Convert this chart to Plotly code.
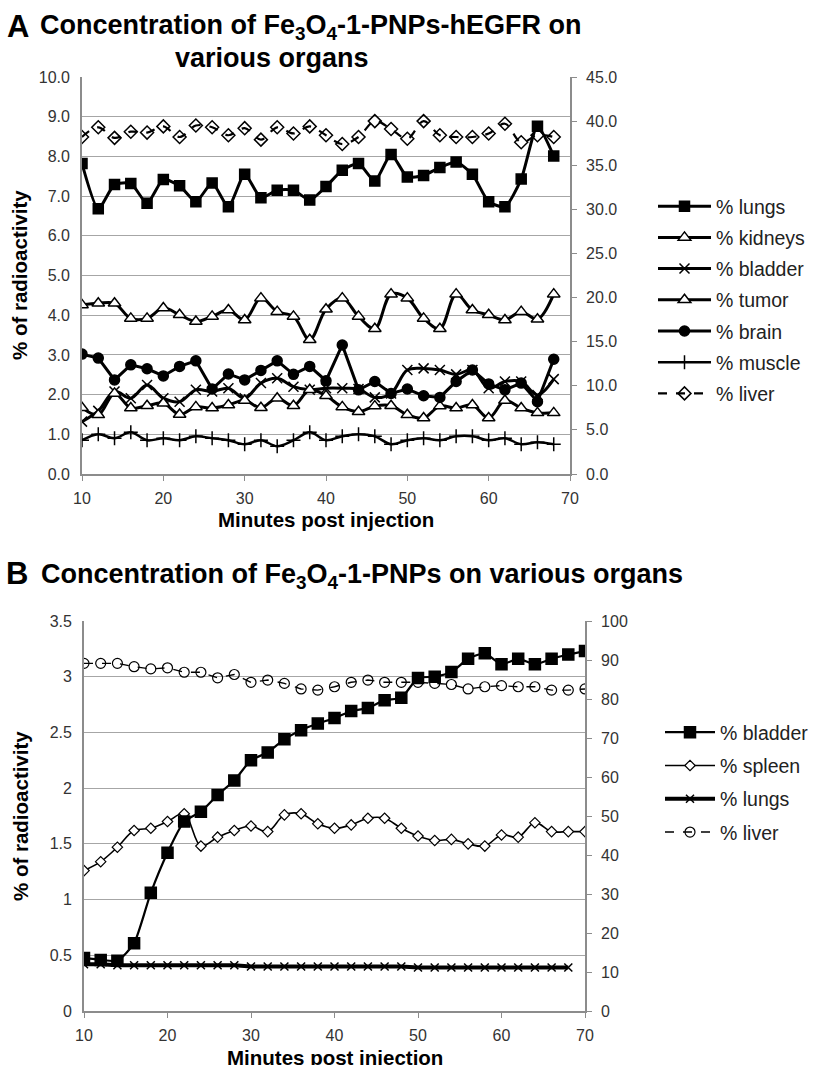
import plotly.graph_objects as go

W, H = 819, 1065
def px(x): return x / W
def py(y): return 1 - y / H

FONT = "Liberation Sans, Arial, sans-serif"

# ---------------- Panel A data ----------------
minutes_a = [10, 12, 14, 16, 18, 20, 22, 24, 26, 28, 30, 32, 34, 36, 38,
             40, 42, 44, 46, 48, 50, 52, 54, 56, 58, 60, 62, 64, 66, 68]
a_lungs = [7.82, 6.68, 7.29, 7.32, 6.82, 7.42, 7.26, 6.86, 7.33, 6.73, 7.55, 6.96, 7.15, 7.15, 6.90,
           7.24, 7.65, 7.82, 7.38, 8.05, 7.48, 7.52, 7.72, 7.86, 7.55, 6.86, 6.73, 7.43, 8.76, 8.01]
a_kidneys = [4.26, 4.30, 4.30, 3.92, 3.92, 4.18, 4.01, 3.84, 3.97, 4.13, 3.88, 4.43, 4.09, 3.97, 3.38,
             4.15, 4.43, 3.97, 3.66, 4.53, 4.43, 3.92, 3.66, 4.53, 4.13, 4.01, 3.88, 4.09, 3.90, 4.53]
a_bladder = [1.32, 1.59, 2.08, 1.91, 2.24, 1.91, 1.82, 2.12, 2.08, 2.16, 1.91, 2.29, 2.41, 2.20, 2.12,
             2.16, 2.16, 2.14, 1.93, 2.03, 2.62, 2.66, 2.62, 2.51, 2.62, 2.16, 2.33, 2.33, 1.99, 2.39]
a_tumor = [1.67, 1.49, 2.03, 1.66, 1.72, 1.78, 1.50, 1.69, 1.66, 1.74, 1.85, 1.67, 1.91, 1.72, 2.12,
           1.97, 1.69, 1.57, 1.71, 1.72, 1.49, 1.41, 1.71, 1.66, 1.74, 1.41, 1.85, 1.66, 1.54, 1.54]
a_brain = [3.02, 2.92, 2.37, 2.75, 2.65, 2.47, 2.71, 2.85, 2.14, 2.52, 2.37, 2.61, 2.85, 2.51, 2.71,
           2.35, 3.25, 2.12, 2.33, 2.03, 2.14, 1.97, 1.93, 2.33, 2.62, 2.27, 2.12, 2.29, 1.82, 2.89]
a_muscle = [0.85, 1.00, 0.90, 1.05, 0.85, 0.90, 0.85, 0.95, 0.90, 0.85, 0.75, 0.85, 0.70, 0.85, 1.05,
            0.85, 0.95, 1.00, 0.95, 0.75, 0.85, 0.90, 0.85, 0.95, 0.95, 0.85, 0.90, 0.75, 0.80, 0.75]
a_liver = [38.2, 39.3, 38.1, 38.8, 38.7, 39.4, 38.2, 39.5, 39.3, 38.4, 39.2, 37.9, 39.3, 38.6, 39.4,
           38.4, 37.4, 38.2, 40.0, 39.1, 38.0, 40.0, 38.4, 38.2, 38.2, 38.6, 39.7, 37.6, 38.4, 38.2]

# ---------------- Panel B data ----------------
minutes_b = [10, 12, 14, 16, 18, 20, 22, 24, 26, 28, 30, 32, 34, 36, 38, 40,
             42, 44, 46, 48, 50, 52, 54, 56, 58, 60, 62, 64, 66, 68, 70]
minutes_b_lungs = [10, 12, 14, 16, 18, 20, 22, 24, 26, 28, 30, 32, 34, 36, 38,
                   40, 42, 44, 46, 48, 50, 52, 54, 56, 58, 60, 62, 64, 66, 68]
b_bladder = [13.6, 13.1, 12.9, 17.4, 30.3, 40.6, 48.6, 51.1, 55.4, 59.1, 64.3, 66.3, 69.7, 72.0, 73.7, 75.1,
             76.9, 77.7, 79.7, 80.3, 85.4, 85.7, 86.9, 90.3, 91.7, 88.9, 90.3, 88.9, 90.3, 91.4, 92.3]
b_spleen = [1.26, 1.34, 1.47, 1.62, 1.64, 1.70, 1.77, 1.48, 1.56, 1.62, 1.66, 1.61, 1.76, 1.77, 1.68, 1.64,
            1.67, 1.73, 1.73, 1.64, 1.57, 1.53, 1.54, 1.50, 1.48, 1.58, 1.56, 1.69, 1.61, 1.61, 1.61]
b_lungs = [0.42, 0.42, 0.41, 0.41, 0.41, 0.41, 0.41, 0.41, 0.41, 0.41, 0.40, 0.40, 0.40, 0.40, 0.40,
           0.40, 0.40, 0.40, 0.40, 0.40, 0.39, 0.39, 0.39, 0.39, 0.39, 0.39, 0.39, 0.39, 0.39, 0.39]
b_liver = [3.12, 3.12, 3.12, 3.09, 3.07, 3.08, 3.04, 3.04, 2.99, 3.02, 2.95, 2.97, 2.94, 2.89, 2.88, 2.91,
           2.95, 2.97, 2.95, 2.95, 2.95, 2.94, 2.93, 2.89, 2.91, 2.92, 2.91, 2.91, 2.88, 2.88, 2.89]

fig = go.Figure()

def add(x, y, name, symbol, size, lw, xa, ya, legend, shape="linear", dash="solid",
        fill="black", smooth=1.0, mlw=1.5):
    fig.add_trace(go.Scatter(
        x=x, y=y, name=name, mode="lines+markers", xaxis=xa, yaxis=ya,
        legend=legend, legendgroup=legend + name,
        line=dict(color="black", width=lw, dash=dash, shape=shape,
                  smoothing=smooth if shape == "spline" else None),
        marker=dict(symbol=symbol, size=size, color=fill,
                    line=dict(color="black", width=mlw)),
    ))

# Panel A
add(minutes_a, a_lungs, "% lungs", "square", 10, 3, "x", "y", "legend", "spline", smooth=0.6)
add(minutes_a, a_kidneys, "% kidneys", "triangle-up", 11, 3, "x", "y", "legend", "spline", fill="white")
add(minutes_a, a_bladder, "% bladder", "x-thin", 10, 3, "x", "y", "legend", "spline")
add(minutes_a, a_tumor, "% tumor", "triangle-up", 11, 3, "x", "y", "legend", "spline", fill="white")
add(minutes_a, a_brain, "% brain", "circle", 10, 3, "x", "y", "legend", "linear")
add(minutes_a, a_muscle, "% muscle", "cross-thin", 10, 2.5, "x", "y", "legend", "spline")
add(minutes_a, a_liver, "% liver", "diamond-open", 10, 2.2, "x", "y2", "legend", "spline", dash="dash")

# Panel B
add(minutes_b, b_bladder, "% bladder", "square", 11, 2.2, "x2", "y4", "legend2", "spline", smooth=0.6)
add(minutes_b, b_spleen, "% spleen", "diamond", 8, 1.6, "x2", "y3", "legend2", "spline", fill="white", mlw=1.2)
add(minutes_b_lungs, b_lungs, "% lungs", "x-thin", 8, 4, "x2", "y3", "legend2", "linear", mlw=1.5)
add(minutes_b, b_liver, "% liver", "circle-open", 10, 1.4, "x2", "y3", "legend2", "linear", dash="dash", mlw=1.2)

AXC = "#8c8c8c"
GRID = "#a6a6a6"
TICKF = dict(family=FONT, size=16, color="#333333")

xcommon = dict(range=[10, 70], tick0=10, dtick=10, showgrid=False, zeroline=False,
               showline=True, linecolor=AXC, linewidth=1.8, ticks="outside",
               ticklen=5, tickcolor=AXC, tickfont=TICKF, ticklabelstandoff=4,
               automargin=False)
yleft = dict(showgrid=True, gridcolor=GRID, gridwidth=1.4, zeroline=False,
             showline=True, linecolor=AXC, linewidth=1.8, ticks="",
             tickfont=TICKF, ticklabelstandoff=7, automargin=False)
yright = dict(showgrid=False, zeroline=False, showline=True, linecolor=AXC,
              linewidth=1.8, ticks="outside", ticklen=5, tickcolor=AXC,
              tickfont=TICKF, ticklabelstandoff=6, side="right", automargin=False)

fig.update_layout(
    width=W, height=H, margin=dict(l=0, r=0, t=0, b=0, pad=0, autoexpand=False),
    paper_bgcolor="white", plot_bgcolor="white",
    font=dict(family=FONT, color="black"),
    xaxis=dict(domain=[px(82), px(570)], anchor="y", **xcommon),
    yaxis=dict(domain=[py(474), py(77)], anchor="x", range=[0, 10], dtick=1,
               tickformat=".1f", **yleft),
    yaxis2=dict(overlaying="y", anchor="x", range=[0, 45], dtick=5,
                tickformat=".1f", **yright),
    xaxis2=dict(domain=[px(84), px(585)], anchor="y3", **xcommon),
    yaxis3=dict(domain=[py(1011), py(621)], anchor="x2", range=[0, 3.5], dtick=0.5,
                **yleft),
    yaxis4=dict(overlaying="y3", anchor="x2", range=[0, 100], dtick=10, **yright),
    legend=dict(x=px(653), y=py(187), xanchor="left", yanchor="top",
                font=dict(family=FONT, size=19.5, color="#222222"),
                itemwidth=53, tracegroupgap=2.85, traceorder="grouped",
                bgcolor="rgba(0,0,0,0)", borderwidth=0),
    legend2=dict(x=px(660), y=py(713), xanchor="left", yanchor="top",
                 font=dict(family=FONT, size=19.5, color="#222222"),
                 itemwidth=50, tracegroupgap=4.95, traceorder="grouped",
                 bgcolor="rgba(0,0,0,0)", borderwidth=0),
    showlegend=True,
)

def ann(text, x, y, size, xanchor="center", yanchor="middle", angle=0):
    fig.add_annotation(text=text, x=px(x), y=py(y), xref="paper", yref="paper",
                       xanchor=xanchor, yanchor=yanchor, showarrow=False,
                       textangle=angle, font=dict(family=FONT, size=size, color="black"))

ann("<b>A</b>", 5, 26, 31, xanchor="left")
ann("<b>Concentration of Fe<sub>3</sub>O<sub>4</sub>-1-PNPs-hEGFR on</b>", 38, 27, 27, xanchor="left")
ann("<b>various organs</b>", 272, 58, 27)
ann("<b>B</b>", 4, 573, 31, xanchor="left")
ann("<b>Concentration of Fe<sub>3</sub>O<sub>4</sub>-1-PNPs on various organs</b>", 39, 576, 27, xanchor="left")
ann("<b>% of radioactivity</b>", 20, 275, 20.5, angle=-90)
ann("<b>% of radioactivity</b>", 20, 816, 20.5, angle=-90)
ann("<b>Minutes post injection</b>", 326, 520, 20.5)
ann("<b>Minutes post injection</b>", 335, 1057, 20.5)

fig.write_html("out.html",
               config={"displayModeBar": False},
               post_script="document.body.style.margin='0px';"
                           "document.body.style.overflow='hidden';")
